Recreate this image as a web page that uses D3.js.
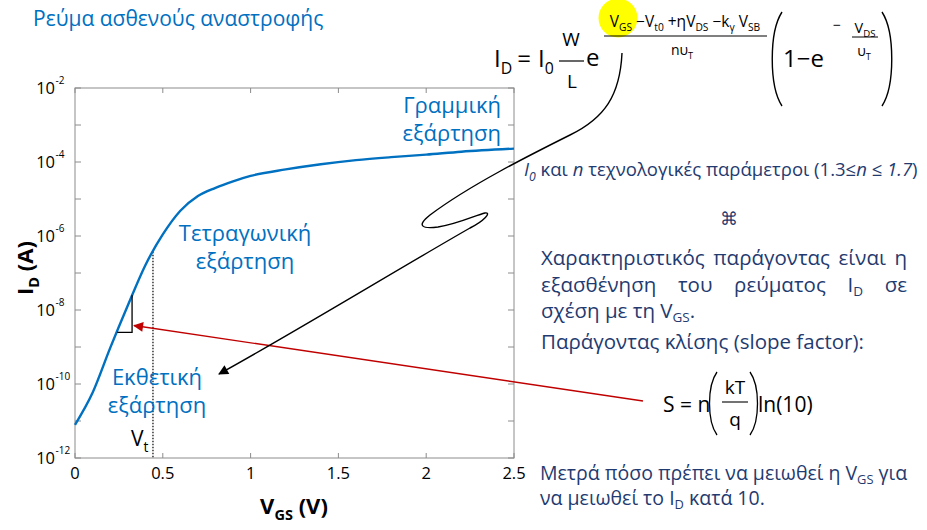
<!DOCTYPE html>
<html>
<head>
<meta charset="utf-8">
<script src="https://cdn.jsdelivr.net/npm/d3@7"></script>
<style>
  body { margin: 0; background: #fff; }
  text { font-family: "Open Sans", "Noto Sans", sans-serif; }
</style>
</head>
<body>
<svg id="slide" width="927" height="530"></svg>
<script>
// I_D vs V_GS
const vgs  = [0, 0.1, 0.2, 0.3, 0.4, 0.5, 0.6, 0.7, 0.8, 0.9, 1.0, 1.2, 1.4, 1.6, 1.8, 2.0, 2.2, 2.5];
const idA  = [7.9e-12, 5.8e-11, 9.3e-10, 1.3e-8, 1.6e-7, 1.1e-6, 4.8e-6, 1.2e-5, 2.0e-5, 3.0e-5,
              4.2e-5, 6.3e-5, 8.7e-5, 1.12e-4, 1.35e-4, 1.58e-4, 1.9e-4, 2.3e-4];
const xTicks = [0, 0.5, 1, 1.5, 2, 2.5];
const yTickExp = [-2, -4, -6, -8, -10, -12];
const yMinorExp = [-2, -3, -4, -5, -6, -7, -8, -9, -10, -11, -12];
const vt = 0.444;
// slope triangle corners (V, A)
const triX = [0.24, 0.325];
const triY = [2.5e-9, 2.5e-8];

const blue = "#0070c0", navy = "#1f3b70";
const svg = d3.select("#slide");
svg.append("rect").attr("width", 927).attr("height", 530).attr("fill", "#fff");

const x = d3.scaleLinear().domain([0, 2.5]).range([75, 514]);
const y = d3.scaleLog().domain([1e-12, 1e-2]).range([458, 88]);

// markers
const defs = svg.append("defs");
[["arrBlack", "#000"], ["arrRed", "#c00000"]].forEach(([id, c]) => {
  defs.append("marker").attr("id", id)
    .attr("viewBox", "0 0 10 10").attr("refX", 9).attr("refY", 5)
    .attr("markerWidth", 13).attr("markerHeight", 10)
    .attr("markerUnits", "userSpaceOnUse")
    .attr("orient", "auto")
    .append("path").attr("d", "M0,0L10,5L0,10Z").attr("fill", c);
});

// rich text helper (sub / sup / italic)
function rich(t, parts, size, subShift = 0.28) {
  let shift = 0;
  parts.forEach(([s, mode, it]) => {
    const target = mode === "sub" ? size * subShift : mode === "sup" ? -size * 0.42 : 0;
    t.append("tspan")
      .attr("dy", target - shift)
      .attr("font-size", mode ? size * 0.66 : size)
      .attr("font-style", it ? "italic" : null)
      .text(s);
    shift = target;
  });
  return t;
}

// title
svg.append("text").attr("x", 33).attr("y", 26).attr("fill", blue)
  .attr("font-size", 21).text("Ρεύμα ασθενούς αναστροφής");

// plot frame
const frame = svg.append("g").attr("stroke", "#8c8c8c").attr("fill", "none");
frame.append("rect").attr("x", x(0)).attr("y", y(1e-2))
  .attr("width", x(2.5) - x(0)).attr("height", y(1e-12) - y(1e-2));
yMinorExp.forEach(e => {
  const yy = y(Math.pow(10, e));
  frame.append("line").attr("x1", x(0)).attr("x2", x(0) + 6).attr("y1", yy).attr("y2", yy);
  frame.append("line").attr("x1", x(2.5)).attr("x2", x(2.5) - 6).attr("y1", yy).attr("y2", yy);
});
xTicks.forEach(v => {
  frame.append("line").attr("x1", x(v)).attr("x2", x(v)).attr("y1", y(1e-12)).attr("y2", y(1e-12) - 5);
  frame.append("line").attr("x1", x(v)).attr("x2", x(v)).attr("y1", y(1e-2)).attr("y2", y(1e-2) + 5);
});

// tick labels
xTicks.forEach(v => {
  svg.append("text").attr("x", x(v)).attr("y", 479).attr("text-anchor", "middle")
    .attr("font-size", 16.5).attr("fill", "#000").text(d3.format("")(v));
});
yTickExp.forEach(e => {
  const yy = y(Math.pow(10, e));
  svg.append("text").attr("x", 55).attr("y", yy + 6).attr("text-anchor", "end")
    .attr("font-size", 16.5).text("10");
  svg.append("text").attr("x", 55.5).attr("y", yy - 4)
    .attr("font-size", 10).text(String(e));
});

// axis titles
rich(svg.append("text").attr("x", 294).attr("y", 514).attr("text-anchor", "middle")
  .attr("font-weight", "bold"), [["V"], ["GS", "sub"], [" (V)"]], 22);
rich(svg.append("text").attr("transform", "translate(33,268) rotate(-90)")
  .attr("text-anchor", "middle").attr("font-weight", "bold"),
  [["I"], ["D", "sub"], [" (A)"]], 22);

// Vt dotted line
const idAt = v => {
  const i = d3.bisectRight(vgs, v) - 1;
  const t = (v - vgs[i]) / (vgs[i + 1] - vgs[i]);
  return Math.pow(10, Math.log10(idA[i]) + t * (Math.log10(idA[i + 1]) - Math.log10(idA[i])));
};
svg.append("line").attr("x1", x(vt)).attr("x2", x(vt))
  .attr("y1", y(idAt(vt))).attr("y2", y(1e-12))
  .attr("stroke", "#000").attr("stroke-width", 1.2).attr("stroke-dasharray", "1.5,1.5");
rich(svg.append("text").attr("x", 131).attr("y", 446).attr("fill", "#000"),
  [["V"], ["t", "sub"]], 21);

// curve
svg.append("path")
  .datum(vgs.map((v, i) => [v, idA[i]]))
  .attr("fill", "none").attr("stroke", blue).attr("stroke-width", 2.4)
  .attr("stroke-linejoin", "round")
  .attr("d", d3.line().x(d => x(d[0])).y(d => y(d[1])).curve(d3.curveMonotoneX));

// slope triangle
svg.append("path").attr("fill", "none").attr("stroke", "#000").attr("stroke-width", 1.3)
  .attr("d", `M${x(triX[0])},${y(triY[0])}H${x(triX[1])}V${y(triY[1])}`);

// region labels
const regionLabel = (cx, by, lines, anchor) => lines.forEach((s, i) =>
  svg.append("text").attr("x", cx).attr("y", by + i * 28).attr("text-anchor", anchor)
    .attr("fill", blue).attr("font-size", 22).text(s));
regionLabel(501, 113, ["Γραμμική", "εξάρτηση"], "end");
regionLabel(245, 241, ["Τετραγωνική", "εξάρτηση"], "middle");
regionLabel(157, 385, ["Εκθετική", "εξάρτηση"], "middle");

// red arrow to the slope triangle
svg.append("line").attr("x1", 643).attr("y1", 401)
  .attr("x2", x(triX[1]) + 2).attr("y2", y(3.8e-9))
  .attr("stroke", "#c00000").attr("stroke-width", 1.4).attr("marker-end", "url(#arrRed)");

// black wiggly arrow from formula
svg.append("path").attr("fill", "none").attr("stroke", "#000").attr("stroke-width", 1.4)
  .attr("marker-end", "url(#arrBlack)")
  .attr("d", "M622,53 C620,95 605,118 570,135 C530,155 470,185 430,215 C416,226 422,229 438,227 " +
             "C458,224 476,215 485,213 C492,212 484,221 470,228 C400,268 290,335 219,374");

// ---- main formula ----
svg.append("circle").attr("cx", 618).attr("cy", 18).attr("r", 19.5).attr("fill", "#ffff00");
const fm = svg.append("g").attr("fill", "#000");
rich(fm.append("text").attr("x", 494).attr("y", 67), [["I"], ["D", "sub"]], 24);
fm.append("text").attr("x", 524).attr("y", 67).attr("text-anchor", "middle").attr("font-size", 24).text("=");
rich(fm.append("text").attr("x", 538).attr("y", 67), [["I"], ["0", "sub"]], 24);
fm.append("text").attr("x", 571).attr("y", 46).attr("text-anchor", "middle").attr("font-size", 19).text("W");
fm.append("line").attr("x1", 559).attr("x2", 584).attr("y1", 61).attr("y2", 61).attr("stroke", "#000").attr("stroke-width", 1.2);
fm.append("text").attr("x", 572).attr("y", 88).attr("text-anchor", "middle").attr("font-size", 19).text("L");
fm.append("text").attr("x", 586).attr("y", 66).attr("font-size", 24).text("e");
rich(fm.append("text").attr("x", 685).attr("y", 27).attr("text-anchor", "middle"),
  [["V"], ["GS", "sub"], [" −V"], ["t0", "sub"], [" +ηV"], ["DS", "sub"], [" −k"], ["γ", "sub"], [" V"], ["SB", "sub"]], 15.5);
fm.append("line").attr("x1", 604).attr("x2", 767).attr("y1", 36).attr("y2", 36).attr("stroke", "#000").attr("stroke-width", 1);
rich(fm.append("text").attr("x", 682).attr("y", 55).attr("text-anchor", "middle"), [["nυ"], ["T", "sub"]], 14);
fm.append("path").attr("fill", "none").attr("stroke", "#000").attr("stroke-width", 1.4)
  .attr("d", "M782,12 C769,32 769,86 782,106 M882,12 C895,32 895,86 882,106");
fm.append("text").attr("x", 783).attr("y", 67).attr("font-size", 24).text("1−e");
fm.append("text").attr("x", 833).attr("y", 30).attr("font-size", 14).text("−");
rich(fm.append("text").attr("x", 865).attr("y", 33).attr("text-anchor", "middle"), [["V"], ["DS", "sub"]], 14.5);
fm.append("line").attr("x1", 852).attr("x2", 878).attr("y1", 37).attr("y2", 37).attr("stroke", "#000").attr("stroke-width", 1);
rich(fm.append("text").attr("x", 864).attr("y", 56).attr("text-anchor", "middle"), [["υ"], ["T", "sub"]], 14);

// ---- right-hand text ----
rich(svg.append("text").attr("x", 524).attr("y", 176).attr("fill", navy),
  [["I", null, true], ["0", "sub", true], [" και "], ["n", null, true], [" τεχνολογικές παράμετροι (1.3≤"],
   ["n", null, true], [" ≤ "], ["1.7", null, true], [")"]], 18.5);
svg.append("text").attr("x", 729).attr("y", 225).attr("text-anchor", "middle")
  .attr("font-family", "DejaVu Sans").attr("font-size", 18).attr("fill", navy).text("⌘");

function justify(t, target) {
  const w = t.node().getComputedTextLength();
  const spaces = (t.text().match(/ /g) || []).length;
  if (spaces && w < target) t.attr("word-spacing", (target - w) / spaces);
}
const p1 = svg.append("text").attr("x", 541).attr("y", 265).attr("fill", navy).attr("font-size", 20.5)
  .text("Χαρακτηριστικός παράγοντας είναι η");
justify(p1, 366);
const p2 = rich(svg.append("text").attr("x", 541).attr("y", 292).attr("fill", navy),
  [["εξασθένηση του ρεύματος I"], ["D", "sub"], [" σε"]], 20.5, 0.2);
justify(p2, 366);
rich(svg.append("text").attr("x", 541).attr("y", 318).attr("fill", navy),
  [["σχέση με τη V"], ["GS", "sub"], ["."]], 20.5, 0.2);
svg.append("text").attr("x", 541).attr("y", 349).attr("fill", navy).attr("font-size", 20.5)
  .text("Παράγοντας κλίσης (slope factor):");

// slope factor formula
const sf = svg.append("g").attr("fill", "#000");
sf.append("text").attr("x", 663).attr("y", 412).attr("font-size", 21).text("S = n");
sf.append("path").attr("fill", "none").attr("stroke", "#000").attr("stroke-width", 1.3)
  .attr("d", "M717,372 C707,386 707,421 717,435 M750,372 C760,386 760,421 750,435");
sf.append("text").attr("x", 735).attr("y", 394).attr("text-anchor", "middle").attr("font-size", 19).text("kT");
sf.append("line").attr("x1", 722).attr("x2", 748).attr("y1", 402).attr("y2", 402).attr("stroke", "#000").attr("stroke-width", 1.1);
sf.append("text").attr("x", 735).attr("y", 426).attr("text-anchor", "middle").attr("font-size", 19).text("q");
sf.append("text").attr("x", 758).attr("y", 412).attr("font-size", 21).text("ln(10)");

rich(svg.append("text").attr("x", 540).attr("y", 480).attr("fill", navy),
  [["Μετρά πόσο πρέπει να μειωθεί η V"], ["GS", "sub"], [" για"]], 19.5, 0.2);
rich(svg.append("text").attr("x", 540).attr("y", 505).attr("fill", navy),
  [["να μειωθεί το I"], ["D", "sub"], [" κατά 10."]], 19.5, 0.2);
</script>
</body>
</html>
